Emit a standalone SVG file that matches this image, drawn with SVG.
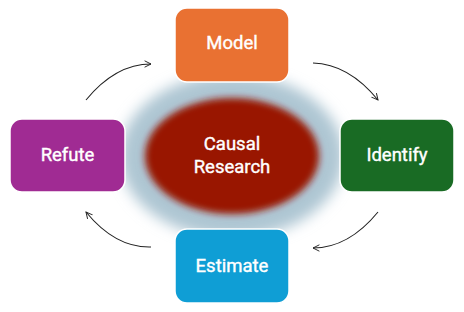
<svg xmlns="http://www.w3.org/2000/svg" width="464" height="312" viewBox="0 0 464 312">
<defs>
<filter id="haloBlur" x="-30%" y="-30%" width="160%" height="160%"><feGaussianBlur stdDeviation="7"/></filter>
<filter id="coreBlur" x="-20%" y="-20%" width="140%" height="140%"><feGaussianBlur stdDeviation="3.5"/></filter>
<marker id="arrow" viewBox="0 0 10 10" refX="9" refY="5" markerWidth="8" markerHeight="8" orient="auto" markerUnits="userSpaceOnUse">
<path d="M1,1 L9,5 L1,9" fill="none" stroke="#222" stroke-width="1.2"/>
</marker>
<style>
.box{stroke:#ffffff;stroke-width:1.5}
.lbl{font-family:Roboto,"Liberation Sans",sans-serif;font-weight:400;font-size:18.5px;fill:#ffffff;stroke:#ffffff;stroke-width:0.4;text-anchor:middle}
.conn{fill:none;stroke:#222;stroke-width:1.1;marker-end:url(#arrow)}
</style>
</defs>
<rect width="464" height="312" fill="#ffffff"/>
<g id="center">
<ellipse cx="232" cy="156" rx="112" ry="82" fill="#AEC6D3" filter="url(#haloBlur)"/>
<ellipse cx="232" cy="156" rx="87" ry="58" fill="#991500" filter="url(#coreBlur)"/>
<text class="lbl" x="232" y="150">Causal</text>
<text class="lbl" x="232" y="173">Research</text>
</g>
<g id="connectors">
<path class="conn" d="M86,100 Q115.5,64 151,64"/>
<path class="conn" d="M313,63 Q348.5,64 378,100"/>
<path class="conn" d="M378,212 Q348.5,248 313,248"/>
<path class="conn" d="M151,247 Q115.5,248 86,212"/>
</g>
<g id="model">
<rect class="box" x="175" y="8" width="114" height="74" rx="12" fill="#E97132"/>
<text class="lbl" x="232" y="48.5">Model</text>
</g>
<g id="identify">
<rect class="box" x="340" y="119" width="114" height="73" rx="12" fill="#196B24"/>
<text class="lbl" x="397" y="161">Identify</text>
</g>
<g id="estimate">
<rect class="box" x="175" y="229" width="114" height="74" rx="12" fill="#0F9ED5"/>
<text class="lbl" x="232" y="272">Estimate</text>
</g>
<g id="refute">
<rect class="box" x="10" y="119" width="115" height="73" rx="12" fill="#A02B93"/>
<text class="lbl" x="67.5" y="161">Refute</text>
</g>
</svg>
